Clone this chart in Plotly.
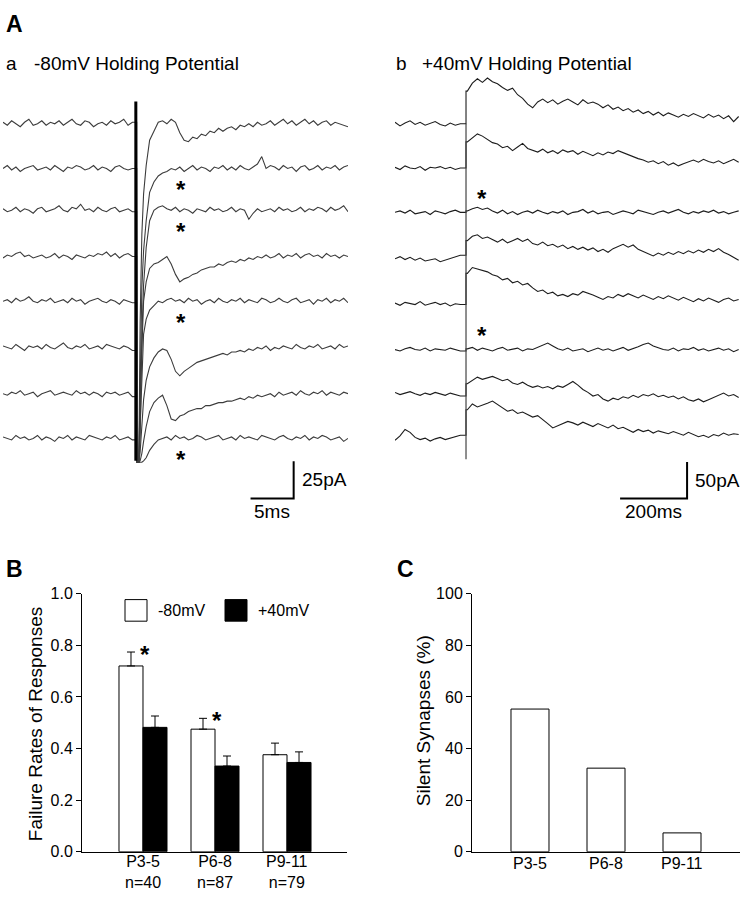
import numpy as np
import plotly.graph_objects as go

W, H = 746, 899
FONT = "Liberation Sans, Arial, Helvetica, sans-serif"


def fx(px):
    return px / W


def fy(py):
    return 1 - py / H


# ------------------------------------------------------------------
# Panel A a : -80 mV holding potential (time in ms, current in pA)
# ------------------------------------------------------------------
A_STIM_MS = 15.5
A_PRE_STEP_MS = 0.5
A_POST_START_MS = 18.0
A_POST_STEP_MS = 0.5
A_ARTEFACT_T = [15.55, 15.75]
A_RECOVERY_T = [15.9, 16.1, 16.3, 16.6, 17.0, 17.5]
A_OFFSETS_PA = [0, -30, -58, -89, -119, -150, -181, -211]
A_FLOOR_PA = -227          # artefact clipped at bottom of display
A_STIM_TOP_PA = 15
A_FAILURES = [1, 2, 4, 7]  # traces marked with *
A_AST_T = 20.6

a_pre = [
    [1, -1, 2, 0, -2, 1, 3, -1, 0, 2, -1, 1, 0, 2, -1, 1, 3, 0, -1, 2, 1, -2, 0, 1, -1, 2, 0, 1, 3, -1, 1],
    [0, 2, -1, 1, -2, 0, 1, 2, -1, 0, 1, -1, 2, 0, -2, 1, 0, 2, 1, -1, 0, 2, -1, 1, 0, -2, 1, 2, 0, -1, 0],
    [1, -1, 0, 2, -1, 1, 0, -2, 1, 2, -1, 0, 1, 3, 0, -1, 2, 1, 4, 0, 1, -1, 2, 0, -1, 1, 2, -1, 0, 1, -1],
    [-1, 1, 0, 2, 3, 0, 1, -1, 0, 1, -1, 0, 2, -1, 1, 0, -2, 1, 0, -1, 1, 0, 2, 1, 3, 0, 2, -1, 1, 2, 0],
    [0, 1, -1, 2, 0, 1, 3, 0, -1, 1, 0, 2, -1, 0, 1, -1, 2, 0, 1, -2, 0, 1, 2, 0, -1, 1, 0, -2, 1, 0, -1],
    [1, 0, -1, 2, 0, -2, 1, 0, 1, -1, 2, 0, -1, 1, 3, 0, -1, 1, 0, 2, -1, 0, 1, -1, 2, 1, 0, -1, 1, 0, -2],
    [0, -1, 1, 0, 2, -1, 0, 1, -2, 0, 1, 2, -1, 0, 1, 0, -1, 2, 0, 1, -1, 1, 0, -2, 1, 0, 1, -1, 0, 1, -2],
    [1, 0, -1, 2, 0, 1, -1, 0, 2, -1, 1, 0, -2, 1, 0, 2, -1, 1, 0, -1, 2, 1, 0, -1, 1, 0, 2, -1, 0, 1, -1],
]
a_rec = [
    [-133, -74, -47, -28, -11, -5],
    [-140, -80, -55, -35, -16, -9],
    [-150, -85, -50, -25, -7, 0],
    [-95, -55, -30, -17, -8, -5],
    [-85, -45, -22, -12, -6, -3],
    [-70, -50, -35, -22, -13, -7],
    [-45, -40, -32, -22, -12, -6],
    [-16, -16, -15, -13, -8, -4],
]
a_post = [
    [1, 2, 0, 3, 1, -6, -11, -12, -9, -10, -7, -8, -5, -6, -3, -5, -3, -2, -4, -1, -2, 0, -2, 1, -1,
     0, 2, -1, 1, 3, 0, 2, -1, 1, 3, 0, 2, -1, 1, 2, -1, 1, 0, -1, -2],
    [-5, -3, -2, 0, -1, 1, -2, 0, 2, -1, 1, 0, -2, 1, 0, 2, -1, 1, -1, 2, 0, -1, 1, 3, 8,
     0, 2, 1, -1, 2, 0, 1, -2, 1, 2, -1, 0, 2, -1, 1, 0, 2, -1, 1, 2],
    [2, 3, 1, 0, 2, -1, 1, 0, -2, 1, 0, -1, 2, 0, 1, -1, 0, 2, -1, 1, 0, -6, -2, 1, -1,
     0, 1, -1, 2, 0, 1, -1, 0, 2, -1, 1, 0, 2, 1, -1, 2, 0, 1, 3, -1],
    [-4, -2, 0, -5, -12, -17, -15, -14, -12, -11, -9, -8, -7, -7, -5, -6, -4, -3, -4, -2, -3, -1, -2, 0, -1,
     1, -1, 0, 2, -1, 1, 0, 2, -1, 1, 2, 0, 1, -1, 2, 0, 1, -1, 1, 0],
    [0, -1, 1, 2, 0, 1, -1, 2, 0, 1, -2, 0, 1, -1, 2, 0, -1, 1, 0, 2, -1, 1, 0, -1, 2,
     1, -1, 0, 2, 0, -1, 1, 2, -1, 0, 1, -2, 1, 0, 2, -1, 1, 0, 2, -1],
    [-3, -1, -2, -8, -16, -19, -16, -14, -12, -10, -9, -8, -7, -6, -5, -4, -5, -3, -3, -2, -3, -1, -2, 0, -1,
     1, -2, 0, -1, 1, 0, -1, 2, 0, -1, 1, 0, 2, -1, 0, 1, -1, 2, 0, 1],
    [-3, -1, -8, -17, -18, -15, -14, -12, -11, -10, -10, -8, -8, -7, -6, -6, -5, -5, -4, -3, -4, -2, -3, -1, -2,
     -1, 0, -2, 1, -1, 0, 1, -1, 2, 0, -1, 1, 0, 2, -1, 1, 0, -1, 1, 0],
    [-1, 0, 1, -1, 2, 0, 1, -1, 0, 2, 1, -1, 0, 1, 2, -1, 0, 1, -1, 2, 0, 1, 0, -1, 2,
     1, 0, -1, 1, 2, 0, -1, 1, 0, 2, -1, 1, 0, 2, 1, -1, 0, 1, -2, 0],
]

# ------------------------------------------------------------------
# Panel A b : +40 mV holding potential
# ------------------------------------------------------------------
B_STIM_MS = 212
B_PRE_STEP_MS = 15
B_POST_START_MS = 216
B_POST_STEP_MS = 15
B_OFFSETS_PA = [0, -61, -122, -186, -248, -311, -372, -434]
B_STIM_BOTTOM_PA = -462
B_FAILURES = [2, 5]
B_AST_T = 260

b_pre = [
    [2, -3, 1, 4, -1, 2, -2, 0, 3, -1, -3, 1, -2, 0],
    [1, -2, 3, 0, -1, 2, -3, 1, 0, 2, -1, 1, -2, 0],
    [0, 2, -1, 3, -2, 0, 1, -3, 2, 0, -2, 1, 3, 0],
    [0, 3, -1, 2, -2, 1, -3, -1, 0, -4, -2, 1, 3, 5],
    [1, -2, 2, 0, -1, 3, -2, 0, 2, -1, 1, -3, 0, -1],
    [0, -2, 1, 3, 0, -1, 2, -2, 1, 0, -1, 2, 0, -2],
    [2, -1, 1, 3, 0, -2, 1, -1, 2, 0, -2, 1, -1, -3],
    [-2, 4, 13, 9, 2, -1, 1, -3, 0, 2, -1, 1, 3, 5],
]
b_post = [
    [45, 56, 62, 57, 63, 58, 55, 50, 46, 49, 40, 35, 27, 22, 30, 34, 29, 33, 27, 31, 34, 30, 26, 33, 28,
     30, 27, 22, 26, 20, 23, 18, 21, 16, 19, 14, 17, 12, 16, 11, 15, 12, 9, 13, 10, 14, 11, 8, 13, 9,
     12, 7, 11, 3, 10],
    [36, 42, 47, 44, 40, 35, 33, 28, 30, 24, 29, 34, 27, 25, 22, 26, 21, 24, 20, 25, 22, 24, 19, 23, 20,
     17, 21, 18, 22, 20, 24, 21, 19, 16, 13, 11, 8, 10, 6, 9, 4, 7, 3, 6, 9, 11, 8, 12, 9, 7,
     10, 6, 9, 12, 8],
    [2, 5, 7, 4, 6, 2, -1, 3, -2, 1, -3, 0, 2, -1, 3, 0, -2, 1, -1, 2, -3, 0, 1, 4, -1,
     2, -2, 0, 1, -3, -1, 2, 0, -2, 3, 1, -1, -3, 0, 2, -1, 1, 4, 0, -2, 1, -1, 2, 0, 3,
     -1, 1, -2, 0, 2],
    [25, 31, 33, 28, 30, 26, 23, 27, 22, 25, 28, 24, 27, 21, 19, 23, 18, 20, 16, 19, 14, 17, 13, 16, 12,
     15, 10, 13, 9, 14, 17, 20, 16, 19, 13, 10, 6, 4, 8, 5, 9, 6, 10, 7, 11, 8, 12, 9, 13, 10,
     14, 9, 6, 2, -2],
    [42, 50, 48, 47, 44, 40, 38, 33, 35, 29, 31, 26, 28, 22, 17, 19, 14, 16, 11, 13, 10, 14, 12, 17, 15,
     12, 9, 6, 10, 8, 13, 10, 14, 11, 8, 12, 9, 6, 10, 7, 11, 8, 5, 9, 6, 3, 7, 4, 8, 5,
     2, 6, 8, 4, 6],
    [1, 3, -1, 2, 0, -2, 1, 3, -1, 0, 2, -2, 1, 0, 3, 7, 9, 5, 1, -1, 2, -2, 0, 1, -3,
     0, 2, -1, 1, -2, 0, 3, -1, 1, 4, 7, 9, 5, 2, 0, -1, 2, -2, 1, 0, 3, -1, 1, -2, 0,
     2, -1, 1, -3, 0],
    [14, 19, 23, 20, 22, 24, 21, 18, 20, 15, 13, 16, 12, 9, 11, 8, 10, 7, 11, 9, 13, 17, 12, 6, 2,
     -3, -1, -7, -10, -6, -8, -4, -6, -2, -5, -1, -3, 0, -4, -2, -5, -3, -7, -4, -8, -10, -7, -11, -8, -5,
     -2, 1, -3, -1, -5],
    [40, 48, 44, 46, 49, 52, 47, 42, 38, 40, 35, 37, 33, 30, 32, 27, 21, 15, 18, 20, 24, 22, 19, 23, 20,
     17, 21, 18, 15, 19, 14, 16, 12, 9, 13, 10, 12, 8, 11, 9, 7, 10, 8, 5, 9, 6, 3, 5, 2, 6,
     4, 8, 5, 7, 6],
]

# scale bars (corner position, lengths from labels)
SB_A = dict(t_end=33.7, y0=-251.3, ms=5, pa=25, ms_label="5ms", pa_label="25pA")
SB_B = dict(t_end=872, y0=-516, ms=200, pa=50, ms_label="200ms", pa_label="50pA")

# ------------------------------------------------------------------
# Panel B / C data
# ------------------------------------------------------------------
AGE_GROUPS = ["P3-5", "P6-8", "P9-11"]
N_CELLS = ["n=40", "n=87", "n=79"]
FAIL_M80 = [0.72, 0.475, 0.376]
FAIL_M80_SEM = [0.054, 0.042, 0.045]
FAIL_P40 = [0.482, 0.332, 0.346]
FAIL_P40_SEM = [0.044, 0.039, 0.041]
SIGNIFICANT = [0, 1]
SILENT_PCT = [55.3, 32.4, 7.3]

fig = go.Figure()

# ---------------- traces, panel a ----------------
A_COLOR = "#3c3c3c"
for k in range(len(A_OFFSETS_PA)):
    off = A_OFFSETS_PA[k]
    pre, rec, post = a_pre[k], a_rec[k], a_post[k]
    t_pre = [i * A_PRE_STEP_MS for i in range(len(pre))]
    t_post = [A_POST_START_MS + i * A_POST_STEP_MS for i in range(len(post))]
    t = t_pre + [A_STIM_MS] + A_ARTEFACT_T + A_RECOVERY_T + t_post
    y = ([off + v for v in pre] + [off + pre[-1]] + [A_FLOOR_PA] * len(A_ARTEFACT_T)
         + [max(off + v, A_FLOOR_PA) for v in rec] + [off + v for v in post])
    fig.add_trace(go.Scatter(x=t, y=y, mode="lines", line=dict(color=A_COLOR, width=1.1),
                             xaxis="x", yaxis="y", hoverinfo="skip"))
# stimulus artefact bar
fig.add_trace(go.Scatter(x=[A_STIM_MS - 0.1, A_STIM_MS - 0.1], y=[A_STIM_TOP_PA, A_FLOOR_PA + 1],
                         mode="lines", line=dict(color="black", width=3), xaxis="x", yaxis="y",
                         hoverinfo="skip"))
# scale bar a
fig.add_trace(go.Scatter(x=[SB_A["t_end"] - SB_A["ms"], SB_A["t_end"], SB_A["t_end"]],
                         y=[SB_A["y0"], SB_A["y0"], SB_A["y0"] + SB_A["pa"]],
                         mode="lines", line=dict(color="black", width=2), xaxis="x", yaxis="y",
                         hoverinfo="skip"))

# ---------------- traces, panel b ----------------
B_COLOR = "#1c1c1c"
for k in range(len(B_OFFSETS_PA)):
    off = B_OFFSETS_PA[k]
    pre, post = b_pre[k], b_post[k]
    t_pre = [i * B_PRE_STEP_MS for i in range(len(pre))]
    t_post = [B_POST_START_MS + i * B_POST_STEP_MS for i in range(len(post))]
    t = t_pre + [B_STIM_MS, B_STIM_MS] + t_post
    y = [off + v for v in pre] + [off + pre[-1], off + post[0]] + [off + v for v in post]
    fig.add_trace(go.Scatter(x=t, y=y, mode="lines", line=dict(color=B_COLOR, width=1.1),
                             xaxis="x2", yaxis="y2", hoverinfo="skip"))
fig.add_trace(go.Scatter(x=[B_STIM_MS, B_STIM_MS], y=[B_OFFSETS_PA[0], B_STIM_BOTTOM_PA],
                         mode="lines", line=dict(color="#444444", width=1.2), xaxis="x2", yaxis="y2",
                         hoverinfo="skip"))
fig.add_trace(go.Scatter(x=[SB_B["t_end"] - SB_B["ms"], SB_B["t_end"], SB_B["t_end"]],
                         y=[SB_B["y0"], SB_B["y0"], SB_B["y0"] + SB_B["pa"]],
                         mode="lines", line=dict(color="black", width=2), xaxis="x2", yaxis="y2",
                         hoverinfo="skip"))

# ---------------- panel B bars ----------------
fig.add_trace(go.Bar(x=AGE_GROUPS, y=FAIL_M80, width=1 / 3, offset=-1 / 3,
                     marker=dict(color="white", line=dict(color="black", width=1)),
                     error_y=dict(type="data", array=FAIL_M80_SEM, arrayminus=[0] * 3, symmetric=False,
                                  color="black", thickness=1, width=4),
                     xaxis="x3", yaxis="y3"))
fig.add_trace(go.Bar(x=AGE_GROUPS, y=FAIL_P40, width=1 / 3, offset=0,
                     marker=dict(color="black", line=dict(color="black", width=1)),
                     error_y=dict(type="data", array=FAIL_P40_SEM, arrayminus=[0] * 3, symmetric=False,
                                  color="black", thickness=1, width=4),
                     xaxis="x3", yaxis="y3"))

# ---------------- panel C bars ----------------
fig.add_trace(go.Bar(x=AGE_GROUPS, y=SILENT_PCT, width=0.5, offset=-0.25,
                     marker=dict(color="white", line=dict(color="black", width=1)),
                     xaxis="x4", yaxis="y4"))

# ---------------- annotations ----------------
ann = []


def text(x, y, s, size, anchor="left", bold=False, **kw):
    d = dict(x=fx(x), y=fy(y), xref="paper", yref="paper", text=("<b>%s</b>" % s) if bold else s,
             showarrow=False, xanchor=anchor, yanchor="middle",
             font=dict(family=FONT, size=size, color="black"))
    d.update(kw)
    ann.append(d)


text(4, 16, "A", 23, bold=True)
text(4, 572, "B", 23, bold=True)
text(395, 572, "C", 23, bold=True)
text(4, 57, "a", 19)
text(32, 57, "-80mV Holding Potential", 19)
text(394, 57, "b", 19)
text(420, 57, "+40mV Holding Potential", 19)
text(35, 730, "Failure Rates of Responses", 19, anchor="center", textangle=-90)
text(423, 727, "Silent Synapses (%)", 19, anchor="center", textangle=-90)

# category labels (data x, paper y)
for g, n in zip(AGE_GROUPS, N_CELLS):
    ann.append(dict(x=g, y=fy(881), xref="x3", yref="paper", text="%s<br>%s" % (g, n), showarrow=False,
                    xanchor="center", yanchor="middle", align="center",
                    font=dict(family=FONT, size=16, color="black")))
    ann.append(dict(x=g, y=fy(872), xref="x4", yref="paper", text=g, showarrow=False,
                    xanchor="center", yanchor="middle", font=dict(family=FONT, size=16, color="black")))

# asterisks on failure traces
for k in A_FAILURES:
    ann.append(dict(x=A_AST_T, y=A_OFFSETS_PA[k] - 13, xref="x", yref="y", text="<b>*</b>",
                    showarrow=False, yshift=-2, font=dict(family=FONT, size=24, color="black")))
for k in B_FAILURES:
    ann.append(dict(x=B_AST_T, y=B_OFFSETS_PA[k] + 22, xref="x2", yref="y2", text="<b>*</b>",
                    showarrow=False, yshift=-2, font=dict(family=FONT, size=24, color="black")))
for g in SIGNIFICANT:
    ann.append(dict(x=g + 0.03, y=FAIL_M80[g] + FAIL_M80_SEM[g] + 0.015, xref="x3", yref="y3",
                    text="<b>*</b>", showarrow=False, yshift=-6,
                    font=dict(family=FONT, size=24, color="black")))

# scale bar labels
for sb, xr, yr in [(SB_A, "x", "y"), (SB_B, "x2", "y2")]:
    ann.append(dict(x=sb["t_end"], y=sb["y0"] + sb["pa"] / 2, xref=xr, yref=yr, text=sb["pa_label"],
                    showarrow=False, xanchor="left", xshift=6, font=dict(family=FONT, size=19, color="black")))
    ann.append(dict(x=sb["t_end"] - sb["ms"] / 2, y=sb["y0"], xref=xr, yref=yr, text=sb["ms_label"],
                    showarrow=False, xanchor="center", yshift=-13, font=dict(family=FONT, size=19, color="black")))

# legend for panel B
shapes = [
    dict(type="rect", xref="paper", yref="paper", x0=fx(125), x1=fx(147), y0=fy(625), y1=fy(603),
         fillcolor="white", line=dict(color="black", width=1)),
    dict(type="rect", xref="paper", yref="paper", x0=fx(225), x1=fx(247), y0=fy(625), y1=fy(603),
         fillcolor="black", line=dict(color="black", width=1)),
]
text(156, 614, "-80mV", 16)
text(256, 614, "+40mV", 16)

# ---------------- layout ----------------
A_REF_PY, A_PX_PER_PA = 118, 1.52
B_REF_PY, B_PX_PER_PA = 118, 0.74
TOP_PY, BOT_PY = 60, 525

hidden = dict(visible=False, showgrid=False, zeroline=False, fixedrange=True)
fig.update_layout(
    width=W, height=H, margin=dict(l=0, r=0, t=0, b=0),
    paper_bgcolor="white", plot_bgcolor="white", showlegend=False,
    font=dict(family=FONT, color="black"),
    xaxis=dict(domain=[fx(3), fx(348)], range=[0, 40], anchor="y", **hidden),
    yaxis=dict(domain=[fy(BOT_PY), fy(TOP_PY)], anchor="x",
               range=[(A_REF_PY - BOT_PY) / A_PX_PER_PA, (A_REF_PY - TOP_PY) / A_PX_PER_PA], **hidden),
    xaxis2=dict(domain=[fx(395), fx(740)], range=[0, 1030], anchor="y2", **hidden),
    yaxis2=dict(domain=[fy(BOT_PY), fy(TOP_PY)], anchor="x2",
                range=[(B_REF_PY - BOT_PY) / B_PX_PER_PA, (B_REF_PY - TOP_PY) / B_PX_PER_PA], **hidden),
    xaxis3=dict(domain=[fx(82), fx(347)], range=[-0.847, 2.833], anchor="y3", type="category",
                showline=True, linecolor="black", linewidth=1, ticks="", showgrid=False, zeroline=False,
                showticklabels=False, fixedrange=True),
    yaxis3=dict(domain=[fy(860), fy(597)], range=[0, 1.0], anchor="x3",
                showline=True, linecolor="black", linewidth=1, ticks="outside", ticklen=5,
                tickcolor="black", tickvals=[0, 0.2, 0.4, 0.6, 0.8, 1.0], tickformat=".1f",
                showgrid=False, zeroline=False, fixedrange=True,
                tickfont=dict(family=FONT, size=16, color="black")),
    xaxis4=dict(domain=[fx(472), fx(740)], range=[-0.763, 2.763], anchor="y4", type="category",
                showline=True, linecolor="black", linewidth=1, ticks="", showgrid=False, zeroline=False,
                showticklabels=False, fixedrange=True),
    yaxis4=dict(domain=[fy(860), fy(597)], range=[0, 100], anchor="x4",
                showline=True, linecolor="black", linewidth=1, ticks="outside", ticklen=5,
                tickcolor="black", tickvals=[0, 20, 40, 60, 80, 100],
                showgrid=False, zeroline=False, fixedrange=True,
                tickfont=dict(family=FONT, size=16, color="black")),
    annotations=ann,
    shapes=shapes,
)

fig.write_html("out.html", config={"displayModeBar": False},
               post_script="document.body.style.margin='0px';document.body.style.overflow='hidden';")
